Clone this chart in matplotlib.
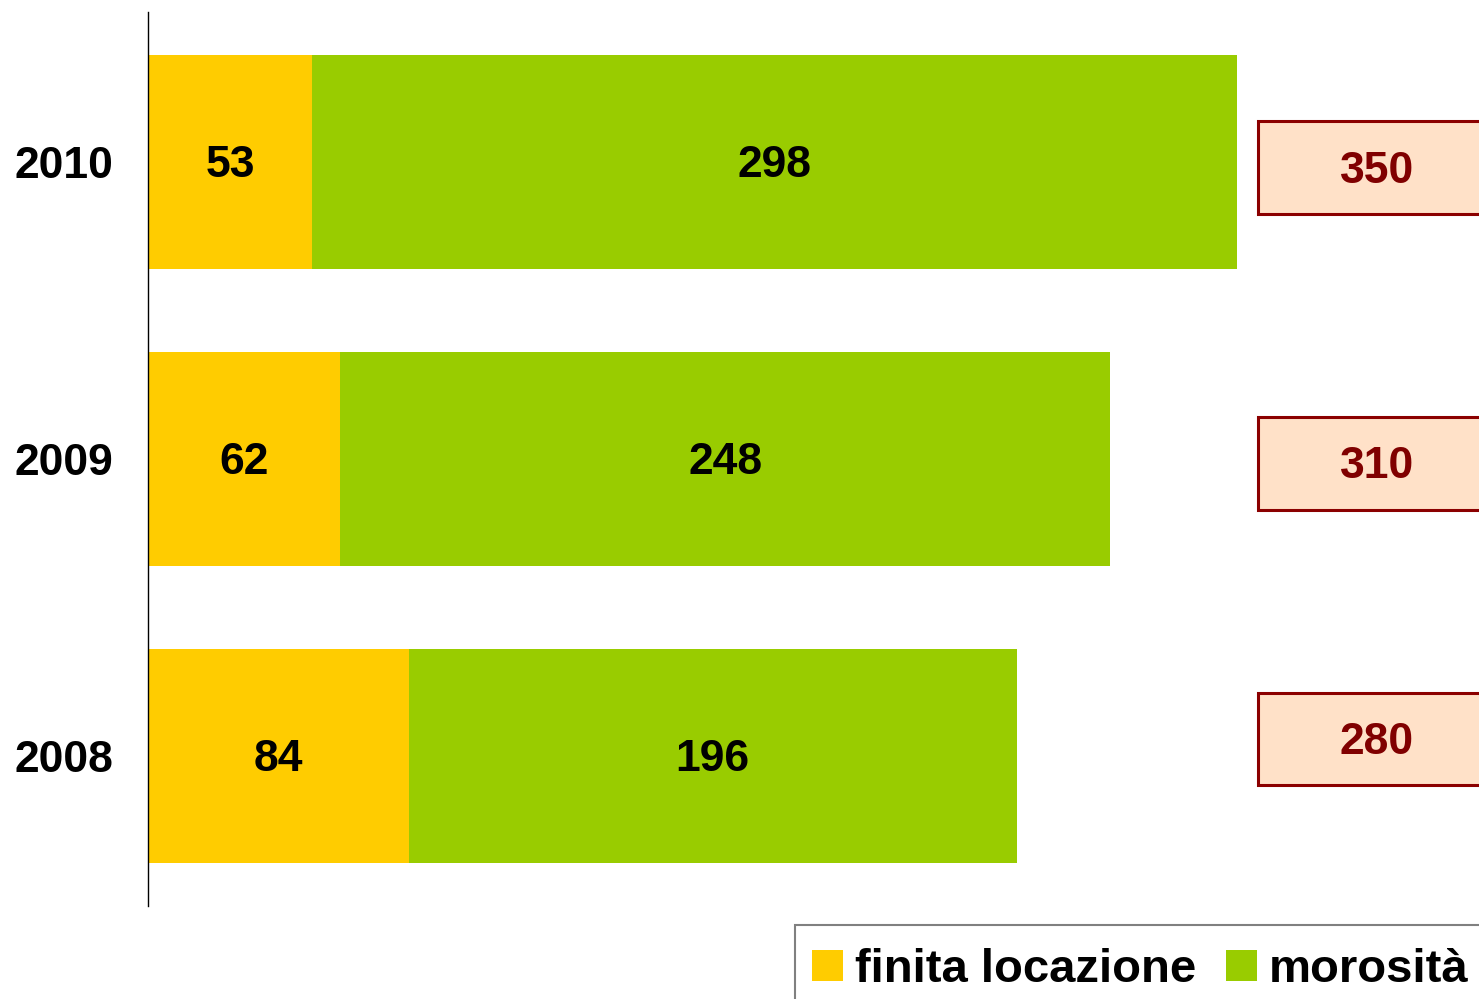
import numpy as np
import matplotlib
matplotlib.use("Agg")
import matplotlib.pyplot as plt
from matplotlib.patches import Rectangle

plt.rcParams['font.family'] = ['Liberation Sans', 'DejaVu Sans']

years = ['2008', '2009', '2010']
finita = [84, 62, 53]
morosita = [196, 248, 298]
totals = [280, 310, 350]

yellow = '#FFCC00'
green = '#99CC00'
dark_red = '#800000'

fig = plt.figure(figsize=(14.79, 9.99), dpi=100)
ax = fig.add_axes([148 / 1479, 1 - 906 / 999, 1 - 148 / 1479, (906 - 12) / 999])

y = np.arange(len(years))
b1 = ax.barh(y, finita, height=0.72, color=yellow, label='finita locazione')
b2 = ax.barh(y, morosita, left=finita, height=0.72, color=green, label='morosità')

for bars in (b1, b2):
    anns = ax.bar_label(bars, label_type='center', fontsize=32, fontweight='bold', color='black')
    for a in anns:
        a.xyann = (0, -2.2)

ax.set_xlim(0, 429)
ax.set_ylim(-0.505, 2.505)
ax.set_yticks(y)
ax.set_yticklabels(years, fontsize=32, fontweight='bold')
ax.tick_params(axis='y', length=0, pad=25)
ax.set_xticks([])
for s in ('top', 'right', 'bottom'):
    ax.spines[s].set_visible(False)
ax.spines['left'].set_linewidth(1.0)

# total boxes on the right
box_y = [0.057, 0.985, 1.981]
for yy, t in zip(box_y, totals):
    ax.add_patch(Rectangle((357.7, yy - 0.156), 150, 0.312, facecolor='#FFE1C8',
                           edgecolor='#8B0000', linewidth=2.2, clip_on=False, zorder=3))
    ax.annotate(str(t), (396, yy), xytext=(0, -2.5), textcoords='offset points',
                ha='center', va='center', fontsize=32, fontweight='bold',
                color=dark_red, zorder=4, annotation_clip=False)

# legend frame runs off the right and bottom edges
fig.patches.append(Rectangle((795 / 1479, -0.05), 0.5, (1 - 925 / 999) + 0.05,
                             transform=fig.transFigure, facecolor='white',
                             edgecolor='#808080', linewidth=1.5, zorder=1))
leg = fig.legend(handles=[b1, b2], loc='upper left',
                 bbox_to_anchor=(795 / 1479, 1 - 931 / 999), ncol=2,
                 prop={'size': 34, 'weight': 'bold'}, frameon=False,
                 handlelength=0.66, handleheight=0.66,
                 handletextpad=0.25, columnspacing=0.62, borderpad=0.36,
                 borderaxespad=0)
leg.set_zorder(2)

fig.savefig('out.png', dpi=100)
